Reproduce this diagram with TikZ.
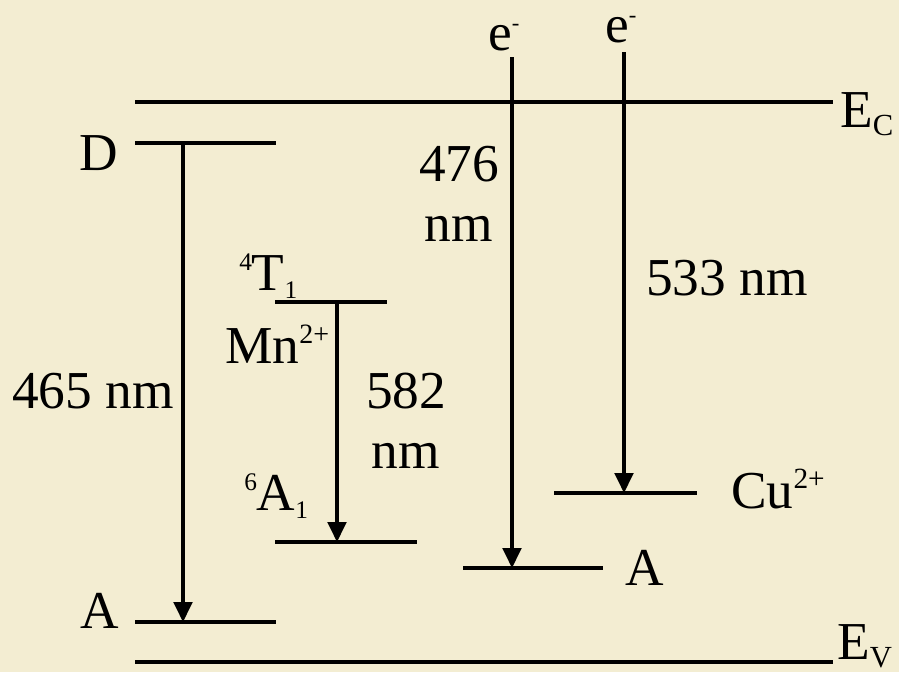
\documentclass[tikz,border=0pt]{standalone}
\usepackage{fontspec}
\setmainfont{Liberation Serif}
\usetikzlibrary{arrows.meta}
\definecolor{bg}{RGB}{243,237,210}
\newcommand{\upx}[2][17]{\raisebox{0.36em}{\fontsize{#1}{#1}\selectfont #2}}
\newcommand{\dnx}[2][17]{\raisebox{-6pt}{\fontsize{#1}{#1}\selectfont #2}}
\tikzset{
  lvl/.style={line width=2.4pt, black},
  trans/.style={line width=2.4pt, -{Triangle[length=15pt,width=14pt]}},
  lbl/.style={font=\fontsize{40}{45}\selectfont, inner sep=0pt, align=center, anchor=base}
}
\begin{document}
\begin{tikzpicture}[x=0.75pt,y=-0.75pt]
\fill[bg] (0,0) rectangle (899,672);
\useasboundingbox (0,0) rectangle (899,672);
% levels
\coordinate (ecL) at (135,102); \coordinate (ecR) at (833,102);
\coordinate (evL) at (135,662); \coordinate (evR) at (833,662);
\coordinate (dL) at (135,143); \coordinate (dR) at (276,143);
\coordinate (aL) at (135,622); \coordinate (aR) at (276,622);
\coordinate (tL) at (275,302); \coordinate (tR) at (387,302);
\coordinate (sL) at (275,542); \coordinate (sR) at (417,542);
\coordinate (a2L) at (463,568); \coordinate (a2R) at (603,568);
\coordinate (cuL) at (554,493); \coordinate (cuR) at (697,493);
\draw[lvl] (ecL) -- (ecR);
\draw[lvl] (evL) -- (evR);
\draw[lvl] (dL) -- (dR);
\draw[lvl] (aL) -- (aR);
\draw[lvl] (tL) -- (tR);
\draw[lvl] (sL) -- (sR);
\draw[lvl] (a2L) -- (a2R);
\draw[lvl] (cuL) -- (cuR);
% arrow endpoints
\coordinate (d1) at (183,143); \coordinate (d2) at (183,622);
\coordinate (m1) at (337,302); \coordinate (m2) at (337,542);
\coordinate (e1) at (512,57); \coordinate (e2) at (512,568);
\coordinate (c1) at (624,52); \coordinate (c2) at (624,493);
\draw[trans] (d1) -- (d2);
\draw[trans] (m1) -- (m2);
\draw[trans] (e1) -- (e2);
\draw[trans] (c1) -- (c2);
% labels
\node[lbl] (lD) at (99,170) {D};
\node[lbl] (lA) at (100,628) {A};
\node[lbl] (l465) at (93,408) {465 nm};
\node[lbl, anchor=base west] (lT) at (239,290) {\upx[19]{4}T\dnx[19]{1}};
\node[lbl, anchor=base west] (lMn) at (225,363) {Mn\upx[21]{2+}};
\node[lbl, anchor=center] (l582) at (406,421) {582\\nm};
\node[lbl, anchor=base west] (lS) at (244,510) {\upx[19]{6}A\dnx[19]{1}};
\node[lbl, anchor=base west] (le1) at (488,50) {e\upx[17]{-}};
\node[lbl, anchor=base west] (le2) at (605,42) {e\upx[17]{-}};
\node[lbl, anchor=center] (l476) at (459,194) {476\\nm};
\node[lbl] (l533) at (727,295) {533 nm};
\node[lbl] (lA2) at (645,585) {A};
\node[lbl, anchor=base west] (lCu) at (731,508) {Cu\upx[22]{2+}};
\node[lbl, anchor=base west] (lEc) at (840,127) {E\dnx[23]{C}};
\node[lbl, anchor=base west] (lEv) at (837,659) {E\dnx[23]{V}};
\end{tikzpicture}
\end{document}
